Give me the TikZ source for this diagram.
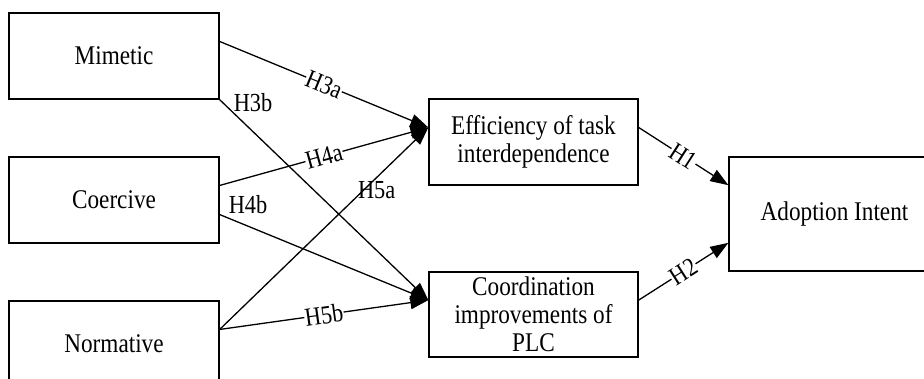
\documentclass[tikz,border=0pt]{standalone}
\usepackage{fontspec}
\setmainfont[FakeStretch=0.86]{Liberation Serif}
\usetikzlibrary{arrows.meta,calc}

\tikzset{
  box/.style={draw, line width=1.3pt, minimum width=210pt, minimum height=86pt,
    inner sep=2pt, align=center, font=\fontsize{27}{28}\selectfont},
  link/.style={line width=1.3pt, -{Triangle[length=18pt,width=13pt]}},
  tag/.style={font=\fontsize{26}{26}\selectfont, inner sep=0.5pt},
  ontag/.style={tag, fill=white, sloped, pos=0.5},
}

\begin{document}
\begin{tikzpicture}[x=1pt, y=-1pt]
  \useasboundingbox (0,0) rectangle (924,378);
  \begin{scope}
  \clip (0,0) rectangle (924,378);

  % determinants
  \node[box] (mim) at (114,56)  {Mimetic};
  \node[box] (coe) at (114,200) {Coercive};
  \node[box] (nor) at (114,344) {Normative};

  % mediators
  \node[box, minimum width=209pt] (eff) at (533.5,142) {Efficiency of task\\interdependence};
  \node[box, minimum width=209pt, minimum height=85pt] (coo) at (533.5,314.5) {Coordination\\improvements of\\PLC};

  % outcome
  \node[box, minimum width=211pt, minimum height=114pt] (ado) at (834.5,214) {Adoption Intent};

  % anchor points along the box sides
  \coordinate (mimA) at ($(mim.north east)!1/3!(mim.south east)$);
  \coordinate (coeA) at ($(coe.north east)!1/3!(coe.south east)$);
  \coordinate (coeB) at ($(coe.north east)!2/3!(coe.south east)$);
  \coordinate (norA) at ($(nor.north east)!1/3!(nor.south east)$);
  \coordinate (effIn) at ($(eff.north west)!1/3!(eff.south west)$);
  \coordinate (effOut) at ($(eff.north east)!1/3!(eff.south east)$);
  \coordinate (cooIn) at ($(coo.north west)!1/3!(coo.south west)$);
  \coordinate (cooOut) at ($(coo.north east)!1/3!(coo.south east)$);
  \coordinate (adoA) at ($(ado.north west)!1/4!(ado.south west)$);
  \coordinate (adoB) at ($(ado.north west)!3/4!(ado.south west)$);

  % hypotheses
  \draw[link] (mimA) -- node[ontag] {H3a} (effIn);
  \draw[link] (mim.south east) -- node[tag, at start, anchor=west, xshift=13pt, yshift=-3pt] {H3b} (cooIn);
  \draw[link] (coeA) -- node[ontag] {H4a} (effIn);
  \draw[link] (coeB) -- node[tag, at start, anchor=west, xshift=8pt, yshift=10pt] {H4b} (cooIn);
  \draw[link] (norA) -- node[tag, pos=0.69, xshift=13pt] {H5a} (effIn);
  \draw[link] (norA) -- node[ontag] {H5b} (cooIn);
  \draw[link] (effOut) -- node[ontag] {H1} (adoA);
  \draw[link] (cooOut) -- node[ontag] {H2} (adoB);
  \end{scope}
\end{tikzpicture}
\end{document}
